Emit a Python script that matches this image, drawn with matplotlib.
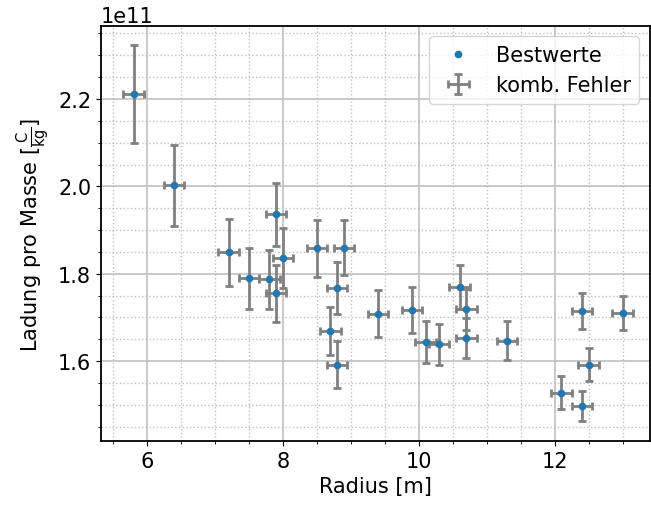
import matplotlib
matplotlib.use("Agg")
import matplotlib.pyplot as plt
from matplotlib.ticker import MultipleLocator

# Messwerte: Radius [m], Ladung pro Masse [1e11 C/kg]
radius = [5.8, 6.4, 7.2, 7.5, 7.8, 7.9, 7.9, 8.0, 8.5, 8.7, 8.8, 8.8, 8.9,
          9.4, 9.9, 10.1, 10.3, 10.6, 10.7, 10.7, 11.3, 12.1, 12.4, 12.4,
          12.5, 13.0]
e_m = [2.212, 2.002, 1.849, 1.790, 1.787, 1.936, 1.755, 1.836, 1.858, 1.669,
       1.767, 1.592, 1.860, 1.708, 1.717, 1.644, 1.639, 1.770, 1.719, 1.653,
       1.647, 1.528, 1.714, 1.497, 1.592, 1.711]
e_m_err = [0.112, 0.093, 0.076, 0.070, 0.068, 0.072, 0.066, 0.068, 0.065,
           0.055, 0.060, 0.053, 0.062, 0.054, 0.052, 0.048, 0.047, 0.050,
           0.047, 0.046, 0.044, 0.038, 0.041, 0.035, 0.038, 0.039]
radius_err = 0.15

e_m = [v * 1e11 for v in e_m]
e_m_err = [v * 1e11 for v in e_m_err]

plt.rcParams['font.size'] = 15

fig = plt.figure(figsize=(6.51, 5.06), dpi=100)
ax = fig.add_axes([0.155, 0.1265, 0.843, 0.82])

ax.errorbar(radius, e_m, xerr=radius_err, yerr=e_m_err, fmt='none',
            ecolor='gray', elinewidth=2, capsize=3, capthick=2,
            label='komb. Fehler', zorder=2)
ax.plot(radius, e_m, '.', color='tab:blue', markersize=9,
        label='Bestwerte', zorder=3)

ax.set_xlim(5.32, 13.4)
ax.set_ylim(1.417e11, 2.367e11)
ax.xaxis.set_major_locator(MultipleLocator(2))
ax.xaxis.set_minor_locator(MultipleLocator(0.5))
ax.yaxis.set_minor_locator(MultipleLocator(0.05e11))
ax.grid(which='major', color='#c0c0c0', linewidth=1.2)
ax.grid(which='minor', color='#c0c0c0', linestyle=':', linewidth=1)
ax.set_axisbelow(True)
for s in ax.spines.values():
    s.set_linewidth(1.3)

ax.set_xlabel('Radius [m]')
ax.set_ylabel(r'Ladung pro Masse [$\frac{\mathrm{C}}{\mathrm{kg}}$]')
ax.legend(loc='upper right')

fig.savefig('out.png', dpi=100)
